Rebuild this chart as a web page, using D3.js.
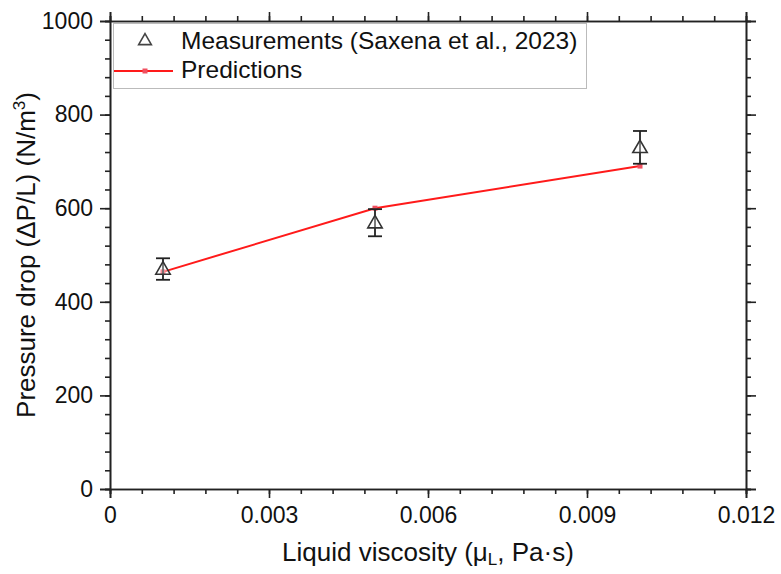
<!DOCTYPE html>
<html>
<head>
<meta charset="utf-8">
<script src="https://cdn.jsdelivr.net/npm/d3@7"></script>
<style>
  html, body { margin: 0; padding: 0; background: #fff; }
  text { font-family: "Liberation Sans", Arial, sans-serif; fill: #111; }
</style>
</head>
<body>
<svg id="chart" width="781" height="574"></svg>
<script>
// Pressure drop vs liquid viscosity
const viscosity = [0.001, 0.005, 0.01];
const measured = [470, 569, 730];
const measuredErr = [23, 29, 35];
const predicted = [464, 600, 690];
const xTicks = [0, 0.003, 0.006, 0.009, 0.012];
const xTickLabels = ["0", "0.003", "0.006", "0.009", "0.012"];
const yTicks = [0, 200, 400, 600, 800, 1000];

const svg = d3.select("#chart");
const margin = { left: 110, right: 35, top: 21, bottom: 85 };
const W = 781, H = 574;

const x = d3.scaleLinear().domain([0, 0.012]).range([margin.left, W - margin.right]);
const y = d3.scaleLinear().domain([0, 1000]).range([H - margin.bottom, margin.top]);

const axisColor = "#222";
const xMinor = d3.range(0, 0.012 + 1e-9, 0.0006);
const yMinor = d3.range(0, 1000 + 1e-9, 40);

function styleAxis(g) {
  g.selectAll("path.domain").attr("stroke", axisColor).attr("stroke-width", 1.6);
  g.selectAll(".tick line").attr("stroke", axisColor).attr("stroke-width", 1.6);
  g.selectAll(".tick text").style("font-size", "23px").attr("fill", "#111");
}

// minor ticks
svg.append("g").attr("transform", `translate(0,${y(0)})`)
  .call(d3.axisBottom(x).tickValues(xMinor).tickSize(5).tickFormat(""))
  .call(styleAxis);
svg.append("g").attr("transform", `translate(0,${y(1000)})`)
  .call(d3.axisTop(x).tickValues(xMinor).tickSize(5).tickFormat(""))
  .call(styleAxis);
svg.append("g").attr("transform", `translate(${x(0)},0)`)
  .call(d3.axisLeft(y).tickValues(yMinor).tickSize(5).tickFormat(""))
  .call(styleAxis);
svg.append("g").attr("transform", `translate(${x(0.012)},0)`)
  .call(d3.axisRight(y).tickValues(yMinor).tickSize(5).tickFormat(""))
  .call(styleAxis);

// major ticks
svg.append("g").attr("transform", `translate(0,${y(0)})`)
  .call(d3.axisBottom(x).tickValues(xTicks).tickSize(9).tickPadding(9)
    .tickFormat((d, i) => xTickLabels[i]))
  .call(styleAxis);
svg.append("g").attr("transform", `translate(0,${y(1000)})`)
  .call(d3.axisTop(x).tickValues(xTicks).tickSize(9).tickFormat(""))
  .call(styleAxis);
svg.append("g").attr("transform", `translate(${x(0)},0)`)
  .call(d3.axisLeft(y).tickValues(yTicks).tickSize(10).tickPadding(7).tickFormat(d3.format("d")))
  .call(styleAxis);
svg.append("g").attr("transform", `translate(${x(0.012)},0)`)
  .call(d3.axisRight(y).tickValues(yTicks).tickSize(10).tickFormat(""))
  .call(styleAxis);

// prediction line
const line = d3.line().x((d, i) => x(viscosity[i])).y(d => y(d));
svg.append("path").datum(predicted)
  .attr("d", line).attr("fill", "none").attr("stroke", "#ff1a1a").attr("stroke-width", 2);
svg.selectAll("rect.pred").data(predicted).enter().append("rect")
  .attr("x", (d, i) => x(viscosity[i]) - 2.5).attr("y", d => y(d) - 2.5)
  .attr("width", 5).attr("height", 5).attr("fill", "#f05060");

// error bars
const eb = svg.append("g").attr("stroke", "#222").attr("stroke-width", 1.8);
measured.forEach((m, i) => {
  const cx = x(viscosity[i]);
  const top = y(m + measuredErr[i]), bot = y(m - measuredErr[i]);
  eb.append("line").attr("x1", cx).attr("x2", cx).attr("y1", top).attr("y2", bot);
  eb.append("line").attr("x1", cx - 7).attr("x2", cx + 7).attr("y1", top).attr("y2", top);
  eb.append("line").attr("x1", cx - 7).attr("x2", cx + 7).attr("y1", bot).attr("y2", bot);
});

// open triangles
const tri = d3.symbol().type(d3.symbolTriangle).size(90);
svg.selectAll("path.meas").data(measured).enter().append("path")
  .attr("d", tri)
  .attr("transform", (d, i) => `translate(${x(viscosity[i])},${y(d) + 1})`)
  .attr("fill", "white").attr("fill-opacity", 0.35).attr("stroke", "#333").attr("stroke-width", 1.6);

// legend
const lg = svg.append("g");
lg.append("rect").attr("x", 113.5).attr("y", 23.5).attr("width", 473).attr("height", 65)
  .attr("fill", "white").attr("stroke", "#bbb").attr("stroke-width", 1);
lg.append("path").attr("d", d3.symbol().type(d3.symbolTriangle).size(70))
  .attr("transform", "translate(145,41)")
  .attr("fill", "none").attr("stroke", "#444").attr("stroke-width", 1.6);
lg.append("text").attr("x", 181).attr("y", 49).style("font-size", "24.5px")
  .text("Measurements (Saxena et al., 2023)");
lg.append("line").attr("x1", 114).attr("x2", 173).attr("y1", 71).attr("y2", 71)
  .attr("stroke", "#ff1a1a").attr("stroke-width", 2);
lg.append("rect").attr("x", 142.5).attr("y", 68.5).attr("width", 5).attr("height", 5).attr("fill", "#f05060");
lg.append("text").attr("x", 181).attr("y", 78).style("font-size", "24.5px").text("Predictions");

// axis titles
const xt = svg.append("text").attr("x", (x(0) + x(0.012)) / 2).attr("y", 561)
  .attr("text-anchor", "middle").style("font-size", "26px");
xt.append("tspan").text("Liquid viscosity (\u03bc");
xt.append("tspan").attr("dy", 4).style("font-size", "17px").text("L");
xt.append("tspan").attr("dy", -4).text(", Pa\u00b7s)");

const yt = svg.append("text")
  .attr("transform", `translate(35,${(y(0) + y(1000)) / 2}) rotate(-90)`)
  .attr("text-anchor", "middle").style("font-size", "26px");
yt.append("tspan").text("Pressure drop (\u0394P/L) (N/m");
yt.append("tspan").attr("dy", -10).style("font-size", "17px").text("3");
yt.append("tspan").attr("dy", 10).text(")");
</script>
</body>
</html>
